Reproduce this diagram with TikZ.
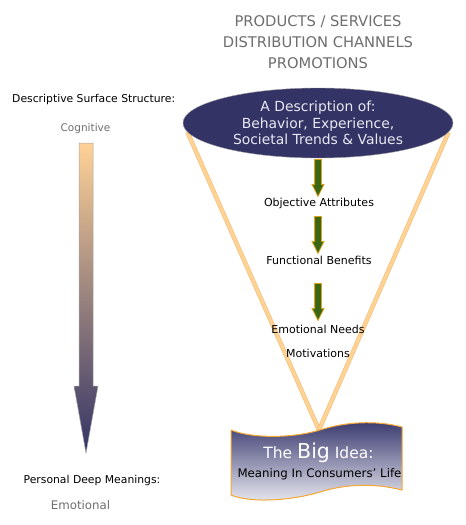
\documentclass[tikz,border=0pt]{standalone}
\usepackage{fontspec}
\setmainfont{DejaVu Sans}
\usepackage{xcolor}
\usepackage{tikz}
\usetikzlibrary{shapes.geometric,shapes.arrows,positioning,backgrounds}

\definecolor{navy}{HTML}{333366}
\definecolor{peach}{HTML}{FFD296}
\definecolor{peachdark}{HTML}{F5C07A}
\definecolor{olive}{HTML}{3A6614}
\definecolor{gold}{HTML}{D9A21B}
\definecolor{greytext}{HTML}{6E6E6E}
\definecolor{lavender}{HTML}{E8E8F2}
\definecolor{flagline}{HTML}{F5A732}
\definecolor{flagtop}{HTML}{38386E}
\definecolor{flagbottom}{HTML}{EAEAF2}

\begin{document}
\begin{tikzpicture}[x=1pt, y=1pt, >=stealth, node distance=1cm]
    % Define styles
    \tikzstyle{heading} = [text=greytext, font=\fontsize{14.7}{21}\selectfont, align=center, inner sep=0pt]
    \tikzstyle{sidetext} = [font=\fontsize{10.8}{13}\selectfont, inner sep=0pt, anchor=base]
    \tikzstyle{sidegrey} = [sidetext, text=greytext]
    \tikzstyle{stage} = [font=\fontsize{11}{13}\selectfont, inner sep=0pt, anchor=base]
    \tikzstyle{fat} = [single arrow, draw=gold, fill=olive, line width=0.8pt, minimum height=37pt, minimum width=11pt, inner sep=3pt, single arrow head extend=2.5pt, single arrow tip angle=53, rotate=-90]
    \tikzstyle{cone} = [draw=peachdark, line width=0.7pt, double=peach, double distance=3pt]

    \useasboundingbox (0,0) rectangle (466,-525);

    % Heading
    \node [heading] (offer) at (318,-42) {PRODUCTS / SERVICES\\ DISTRIBUTION CHANNELS\\ PROMOTIONS};

    % Left scale
    \node [sidetext, anchor=base west] (surface) at (12,-102.5) {Descriptive Surface Structure:};
    \node [sidegrey, font=\fontsize{10.5}{13}\selectfont] (cognitive) at (85.5,-131) {Cognitive};
    \node [sidetext] (deep) at (92,-483) {Personal Deep Meanings:};
    \node [sidegrey, font=\fontsize{11.8}{13}\selectfont] (emotional) at (80.5,-509) {Emotional};
    \shade [top color=peach, bottom color=navy, draw=gray!70, line width=0.5pt]
        (79,-143) -- (93,-143) -- (93,-386) -- (98,-386) -- (86,-453) -- (74,-386) -- (79,-386) -- cycle;

    % Nodes
    \node [ellipse, draw=gray!80, fill=navy, text=lavender, minimum width=270pt, minimum height=70pt, inner sep=0pt, align=center, font=\fontsize{13.9}{16.5}\selectfont] (desc) at (318,-123) {A Description of:\\ Behavior, Experience,\\ Societal Trends \& Values};
    \node [stage] (obj_attr) at (319,-206) {Objective Attributes};
    \node [stage] (func_ben) at (319,-264) {Functional Benefits};
    \node [stage] (emo_needs) at (318,-333) {Emotional Needs};
    \node [stage, below=15.5pt of emo_needs] (motiv) {Motivations};

    % Big idea
    \path [draw=flagline, line width=1pt, top color=flagtop, bottom color=flagbottom]
        (231,-430) .. controls (250,-438) and (290,-439) .. (320,-430)
        .. controls (345,-422) and (375,-420) .. (402,-427) -- (402,-490)
        .. controls (375,-483) and (345,-484) .. (320,-492)
        .. controls (290,-501) and (250,-503) .. (231,-495) -- cycle;
    \coordinate (vtip) at (319,-430);
    \node [anchor=base, inner sep=0pt, text=white, font=\fontsize{15.5}{18}\selectfont] (big_idea) at (318.5,-458) {The {\fontsize{20.5}{24}\selectfont Big} Idea:};
    \node [anchor=base, inner sep=0pt, font=\fontsize{11.8}{15}\selectfont] (life) at (319.5,-477) {Meaning In Consumers' Life};

    % Arrows
    \node [fat] (down_a) at (318,-174.5) {};
    \node [fat] (down_b) at (318,-231.5) {};
    \node [fat] (down_c) at (318,-298.5) {};
    \begin{pgfonlayer}{background}
        \draw [cone] (desc.184) -- (vtip);
        \draw [cone] (desc.-4) -- (vtip);
    \end{pgfonlayer}
\end{tikzpicture}
\end{document}
